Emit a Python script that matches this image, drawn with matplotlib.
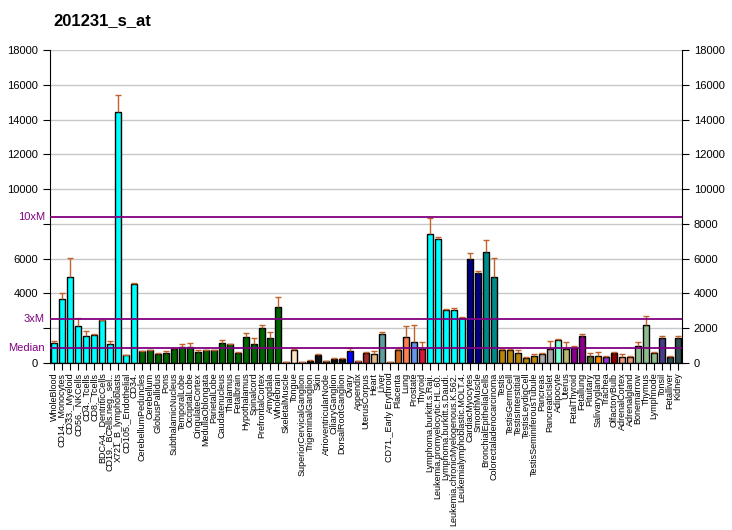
import matplotlib
matplotlib.use('Agg')
import matplotlib.pyplot as plt
import matplotlib.transforms as mtransforms
import numpy as np

plt.rcParams['font.family'] = ['Liberation Sans', 'DejaVu Sans']

title = '201231_s_at'

samples = ['WholeBlood', 'CD14._Monocytes', 'CD33._Myeloid', 'CD56._NKCells', 'CD4._Tcells',
           'CD8._Tcells', 'BDCA4._DentriticCells', 'CD19._BCells.neg._sel..', 'X721_B_lymphoblasts',
           'CD105._Endothelial', 'CD34.', 'CerebellumPeduncles', 'Cerebellum', 'GlobusPallidus', 'Pons',
           'SubthalamicNucleus', 'TemporalLobe', 'OccipitalLobe', 'CingulateCortex', 'MedullaOblongata',
           'ParietalLobe', 'Caudatenucleus', 'Thalamus', 'Fetalbrain', 'Hypothalamus', 'Spinalcord',
           'PrefrontalCortex', 'Amygdala', 'Wholebrain', 'SkeletalMuscle', 'Tongue',
           'SuperiorCervicalGanglion', 'TrigeminalGanglion', 'Skin', 'AtrioventricularNode',
           'CiliaryGanglion', 'DorsalRootGanglion', 'Ovary', 'Appendix', 'UterusCorpus', 'Heart', 'Liver',
           'CD71._Early Erythroid', 'Placenta', 'Lung', 'Prostate', 'Thyroid', 'Lymphoma.burkitt.s.Raji.',
           'Leukemia.promyelocytic.HL.60.', 'Lymphoma.burkitt.s.Daudi.', 'Leukemia.chronicMyelogenous.K.562.',
           'Leukemialymphoblastic.MOLT.4.', 'CardiacMyocytes', 'SmoothMuscle', 'BronchialEpithelialCells',
           'Colorectaladenocarcinoma', 'Testis', 'TestisGermCell', 'TestisInterstitial', 'TestisLeydigCell',
           'TestisSeminiferousTubule', 'Pancreas', 'PancreaticIslet', 'Adipocyte', 'Uterus', 'FetalThyroid',
           'Fetallung', 'Pituitary', 'Salivarygland', 'Trachea', 'OlfactoryBulb', 'AdrenalCortex',
           'Adrenalgland', 'Bonemarrow', 'Thymus', 'Lymphnode', 'Tonsil', 'Fetalliver', 'Kidney']

values = [1150, 3690, 4950, 2150, 1530, 1590, 2470, 1100, 14420, 440, 4530,
          690, 750, 540, 600, 800, 920, 920, 640, 750, 750, 1160, 1100, 600, 1470, 1120, 1990, 1410, 3200,
          50, 720, 50, 130, 450, 110, 220, 220, 680, 110, 570, 500, 1650, 50, 720, 1470, 1180, 830,
          7420, 7110, 3050, 3050, 2560, 5960, 5170, 6360, 4920,
          770, 720, 600, 260, 380, 490, 830, 1330, 830, 890, 1580, 430, 430, 320, 550, 320, 320,
          1000, 2160, 600, 1410, 320, 1410]

errors = [120, 320, 1100, 420, 290, 100, 20, 180, 980, 0, 50,
          20, 20, 40, 90, 50, 170, 230, 110, 20, 20, 170, 20, 50, 230, 290, 170, 350, 570,
          0, 70, 0, 50, 50, 0, 60, 50, 200, 0, 50, 200, 110, 0, 60, 640, 990, 350,
          900, 120, 60, 110, 70, 340, 100, 690, 1100,
          30, 60, 150, 60, 110, 60, 460, 50, 400, 60, 110, 130, 230, 60, 60, 180, 60,
          180, 520, 60, 120, 60, 170]

colors = (['#00FFFF'] * 11 + ['#006400'] * 18 +
          ['#111111', '#FFE4C4', '#111111', '#111111', '#111111', '#111111', '#111111', '#111111',
           '#0000FF', '#9400D3', '#A52A2A', '#DEB887', '#5F9EA0', '#111111', '#D2691E', '#FF7F50',
           '#6495ED', '#DC143C'] +
          ['#00FFFF'] * 5 + ['#000080'] * 2 + ['#008B8B'] * 2 + ['#B8860B'] * 5 + ['#A9A9A9'] * 2 +
          ['#7FFFD4', '#BDB76B', '#8B008B', '#8B008B', '#556B2F', '#FF8C00', '#9932CC', '#8B0000',
           '#E9967A', '#E9967A', '#8FBC8F', '#8FBC8F', '#8FBC8F', '#483D8B', '#2F4F4F', '#2F4F4F'])

median = 840
purple = '#800080'

fig = plt.figure(figsize=(7.32, 5.30), dpi=100)
ax = fig.add_axes([50 / 732, 167 / 530, 632 / 732, 313 / 530])

x = np.arange(len(samples))
ax.set_xlim(-0.5, len(samples) - 0.5)
ax.set_ylim(0, 18000)

for g in range(2000, 18001, 2000):
    ax.axhline(g, color='#C8C8C8', lw=1, zorder=0)

ax.bar(x, values, width=0.8, color=colors, edgecolor='black', linewidth=1, zorder=2)
eb = ax.errorbar(x, values, yerr=[np.zeros(len(values)), errors], fmt='none', ecolor='#C0622A',
                 elinewidth=1, capsize=2.5, capthick=1, zorder=3)
eb[1][0].set_visible(False)

trans = mtransforms.blended_transform_factory(ax.transAxes, ax.transData)
for mult, lab in [(1, 'Median'), (3, '3xM'), (10, '10xM')]:
    ax.axhline(median * mult, color=purple, lw=1.3, zorder=4)
    ax.text(-0.008, median * mult, lab, transform=trans, ha='right', va='center',
            color=purple, fontsize=8)

yt = list(range(0, 18001, 2000))
ax.set_yticks(yt, ['' if v in (2000, 8000) else str(v) for v in yt], fontsize=8)
ax.set_xticks(x, samples, rotation=90, fontsize=6.5)
ax.tick_params(axis='x', length=5, pad=2)
ax.tick_params(axis='y', length=5)

ax.spines['top'].set_visible(False)
ax.spines['right'].set_visible(False)

ax2 = ax.twinx()
ax2.set_ylim(0, 18000)
ax2.set_yticks(yt, [str(v) for v in yt], fontsize=8)
ax2.tick_params(axis='y', length=5)
ax2.spines['top'].set_visible(False)
ax2.spines['left'].set_visible(False)

fig.text(53 / 732, 1 - 21 / 530, title, fontsize=12, fontweight='bold', ha='left', va='center')

fig.savefig('out.png', dpi=100)
